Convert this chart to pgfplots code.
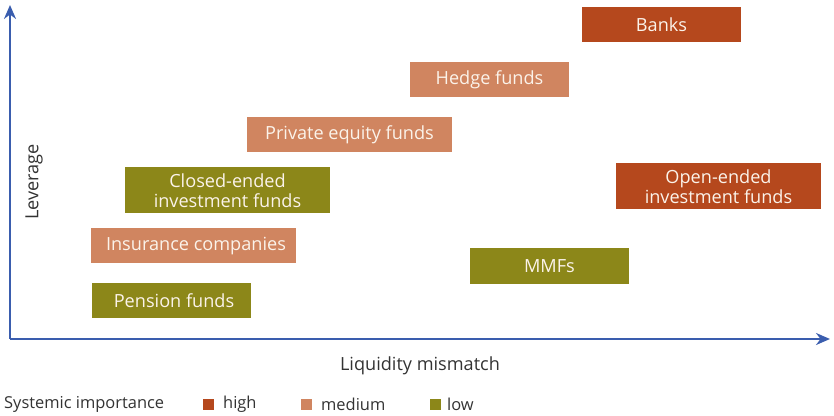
\documentclass[border=0pt]{standalone}
\usepackage{pgfplots}
\pgfplotsset{compat=1.18}
\usepackage{fontspec}
\setmainfont{Open Sans}
\usetikzlibrary{arrows.meta}
\definecolor{high}{HTML}{B5481D}
\definecolor{medium}{HTML}{D08560}
\definecolor{low}{HTML}{8C8719}
\definecolor{axisblue}{HTML}{3A5DAE}
\definecolor{boxtext}{HTML}{FBF3EA}
\definecolor{txt}{HTML}{333333}
\tikzset{
  boxlbl/.style={text=boxtext, align=center, inner sep=0pt, font=\fontsize{18.2}{20}\selectfont},
  otherlbl/.style={text=txt, font=\fontsize{18.2}{20}\selectfont},
  leglbl/.style={text=txt, anchor=west, inner sep=0pt, font=\fontsize{16.5}{19}\selectfont},
}
\begin{document}
\begin{tikzpicture}
\useasboundingbox (0,0) rectangle (834bp,416bp);
\begin{axis}[
  at={(10bp,77bp)}, anchor=south west,
  scale only axis, width=820bp, height=334bp,
  xmin=10, xmax=830, ymin=77, ymax=411,
  clip=false,
  axis lines=left,
  xtick=\empty, ytick=\empty,
  axis line style={draw=axisblue, line width=2.2bp},
  x axis line style={-{Stealth[length=14bp,width=12bp]}},
  y axis line style={-{Stealth[length=14bp,width=12bp]}},
]
% boxes: x1,x2 ; y1,y2 (axis units = bp)
\addplot[draw=none, fill=high, mark=none] coordinates {(582,374) (741,374) (741,409) (582,409)} -- cycle;
\addplot[draw=none, fill=medium, mark=none] coordinates {(410,319) (569,319) (569,354) (410,354)} -- cycle;
\addplot[draw=none, fill=medium, mark=none] coordinates {(247,264) (452,264) (452,299) (247,299)} -- cycle;
\addplot[draw=none, fill=low, mark=none] coordinates {(125,203) (330,203) (330,249) (125,249)} -- cycle;
\addplot[draw=none, fill=high, mark=none] coordinates {(616,207) (821,207) (821,253) (616,253)} -- cycle;
\addplot[draw=none, fill=medium, mark=none] coordinates {(91,153) (296,153) (296,188) (91,188)} -- cycle;
\addplot[draw=none, fill=low, mark=none] coordinates {(470,132) (629,132) (629,168) (470,168)} -- cycle;
\addplot[draw=none, fill=low, mark=none] coordinates {(92,98) (251,98) (251,133) (92,133)} -- cycle;

\node[boxlbl] at (axis cs:661.5,391) {Banks};
\node[boxlbl] at (axis cs:489.5,336) {Hedge funds};
\node[boxlbl] at (axis cs:349.5,281) {Private equity funds};
\node[boxlbl] at (axis cs:227.5,225.5) {Closed-ended\\investment funds};
\node[boxlbl] at (axis cs:718.5,229.5) {Open-ended\\investment funds};
\node[boxlbl] at (axis cs:196,170) {Insurance companies};
\node[boxlbl] at (axis cs:549.5,149.5) {MMFs};
\node[boxlbl] at (axis cs:174,115) {Pension funds};

% axis titles
\node[otherlbl] at (axis cs:420,50) {Liquidity mismatch};
\node[otherlbl, rotate=90] at (axis cs:34,234) {Leverage};

% legend
\addplot[only marks, mark=square*, mark size=5bp, draw=high, fill=high] coordinates {(208,12)};
\addplot[only marks, mark=square*, mark size=5bp, draw=medium, fill=medium] coordinates {(306,12)};
\addplot[only marks, mark=square*, mark size=5bp, draw=low, fill=low] coordinates {(435,12)};
\node[leglbl] at (axis cs:4,12) {Systemic importance};
\node[leglbl] at (axis cs:223,12) {high};
\node[leglbl] at (axis cs:321,12) {medium};
\node[leglbl] at (axis cs:447,12) {low};
\end{axis}
\end{tikzpicture}
\end{document}
